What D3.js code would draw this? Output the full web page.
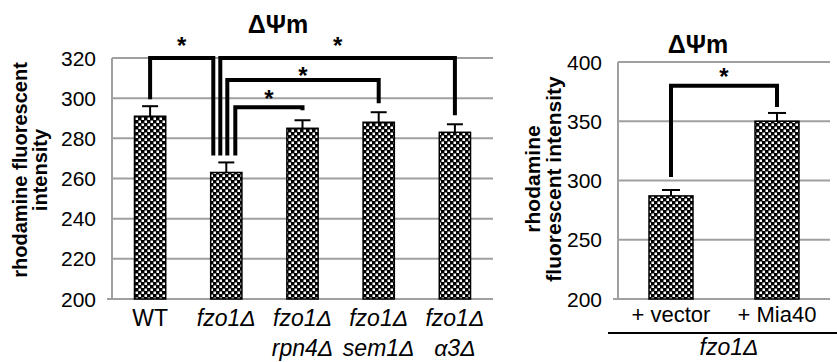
<!DOCTYPE html>
<html>
<head>
<meta charset="utf-8">
<script src="https://cdn.jsdelivr.net/npm/d3@7"></script>
<style>
  body { margin: 0; background: #fff; }
  svg { display: block; font-family: Arial, "Liberation Sans", sans-serif; }
</style>
</head>
<body>
<svg id="chart" width="837" height="362"></svg>
<script>
// left panel data
const leftLine1 = ["WT", "fzo1Δ", "fzo1Δ", "fzo1Δ", "fzo1Δ"];
const leftLine2 = ["", "", "rpn4Δ", "sem1Δ", "α3Δ"];
const leftValues = [291, 263, 285, 288, 283];
const leftErrors = [5, 5, 4, 5, 4];
const leftTicks = [200, 220, 240, 260, 280, 300, 320];
// brackets: bar a -> bar b, level of the top line, where each leg ends, where the star sits
const leftBrackets = [
  { a: 0, b: 1, level: 320, endA: 299.5, endB: 271.5, star: 329 },
  { a: 1, b: 4, level: 320, endA: 271.5, endB: 291.5, star: 329 },
  { a: 1, b: 3, level: 309, endA: 271.5, endB: 297.5, star: 314 },
  { a: 1, b: 2, level: 295.5, endA: 271.5, endB: 294, star: 303 }
];

// right panel data
const rightCategories = ["+ vector", "+ Mia40"];
const rightValues = [287, 350];
const rightErrors = [5, 7];
const rightTicks = [200, 250, 300, 350, 400];
const rightBrackets = [
  { a: 0, b: 1, level: 380, endA: 303, endB: 362, star: 393 }
];

const svg = d3.select("#chart");

// checker fill used by all bars
const pat = svg.append("defs").append("pattern")
  .attr("id", "checker")
  .attr("patternUnits", "userSpaceOnUse")
  .attr("width", 6).attr("height", 6);
pat.append("rect").attr("width", 6).attr("height", 6).attr("fill", "#000");
pat.append("rect").attr("x", 0.5).attr("y", 0.5).attr("width", 2.5).attr("height", 2.5).attr("fill", "#fff");
pat.append("rect").attr("x", 3.5).attr("y", 3.5).attr("width", 2.5).attr("height", 2.5).attr("fill", "#fff");

function drawPanel(opt) {
  const g = svg.append("g");
  const x = d3.scaleBand()
    .domain(d3.range(opt.values.length))
    .range([opt.left, opt.right])
    .paddingInner(opt.pad).paddingOuter(opt.pad / 2);
  const y = d3.scaleLinear().domain(opt.domain).range([opt.bottom, opt.top]);

  // gridlines
  g.append("g").selectAll("line")
    .data(opt.ticks)
    .join("line")
    .attr("x1", d => d === opt.domain[0] ? opt.left - 5 : opt.left)
    .attr("x2", opt.right)
    .attr("y1", d => y(d)).attr("y2", d => y(d))
    .attr("stroke", "#a0a0a0").attr("stroke-width", 2);

  g.append("line")
    .attr("x1", opt.left).attr("x2", opt.left)
    .attr("y1", y(opt.domain[1])).attr("y2", y(opt.domain[0]))
    .attr("stroke", "#a0a0a0").attr("stroke-width", 2);

  // tick labels
  g.append("g").selectAll("text")
    .data(opt.ticks)
    .join("text")
    .attr("x", opt.left - 16)
    .attr("y", d => y(d))
    .attr("dy", "0.36em")
    .attr("text-anchor", "end")
    .attr("font-size", opt.tickSize)
    .attr("fill", "#000")
    .text(d => d);

  // bars
  g.append("g").selectAll("rect")
    .data(opt.values)
    .join("rect")
    .attr("x", (d, i) => x(i))
    .attr("y", d => y(d))
    .attr("width", x.bandwidth())
    .attr("height", d => y(opt.domain[0]) - y(d))
    .attr("fill", "url(#checker)")
    .attr("stroke", "#000").attr("stroke-width", 1.5);

  // error bars (upper only)
  const cx = i => x(i) + x.bandwidth() / 2;
  const eb = g.append("g").attr("stroke", "#000").attr("stroke-width", 2);
  opt.values.forEach((v, i) => {
    const top = y(v + opt.errors[i]);
    eb.append("line").attr("x1", cx(i)).attr("x2", cx(i)).attr("y1", y(v)).attr("y2", top);
    eb.append("line").attr("x1", cx(i) - opt.cap).attr("x2", cx(i) + opt.cap).attr("y1", top).attr("y2", top);
  });

  // significance brackets
  const br = g.append("g");
  opt.brackets.forEach((b, k) => {
    const xa = cx(b.a) + (opt.legShift ? opt.legShift[k][0] : 0);
    const xb = cx(b.b) + (opt.legShift ? opt.legShift[k][1] : 0);
    br.append("path")
      .attr("d", `M${xa},${y(b.endA)}V${y(b.level)}H${xb}V${y(b.endB)}`)
      .attr("fill", "none").attr("stroke", "#000").attr("stroke-width", 4)
      .attr("stroke-linejoin", "miter");
    br.append("text")
      .attr("x", (xa + xb) / 2)
      .attr("y", y(b.star))
      .attr("dy", "0.6em")
      .attr("text-anchor", "middle")
      .attr("font-size", 24).attr("font-weight", "bold")
      .text("*");
  });

  // title
  g.append("text")
    .attr("x", opt.titleX).attr("y", opt.titleY)
    .attr("text-anchor", "middle")
    .attr("font-size", 25).attr("font-weight", "bold")
    .text("ΔΨm");

  // y-axis title
  const yt = g.append("text")
    .attr("transform", `translate(${opt.yTitleX},${opt.yTitleY}) rotate(-90)`)
    .attr("text-anchor", "middle")
    .attr("font-size", opt.yTitleSize).attr("font-weight", "bold");
  opt.yTitle.forEach((t, i) => {
    yt.append("tspan").attr("x", 0).attr("y", i * opt.yTitleGap).text(t);
  });

  return { g, x, y, cx };
}

// left panel
const L = drawPanel({
  left: 112, right: 493, top: 58, bottom: 299, pad: 0.59,
  domain: [200, 320], ticks: leftTicks,
  values: leftValues, errors: leftErrors, cap: 8,
  brackets: leftBrackets,
  legShift: [[0, -13], [-6, 0], [1, 0], [9, 0]],
  tickSize: 21,
  titleX: 278, titleY: 33,
  yTitle: ["rhodamine fluorescent", "intensity"],
  yTitleSize: 20,
  yTitleX: 27, yTitleY: 170, yTitleGap: 20
});

L.g.append("g").selectAll("text")
  .data(leftLine1)
  .join("text")
  .attr("x", (d, i) => L.cx(i))
  .attr("y", 326)
  .attr("text-anchor", "middle")
  .attr("font-size", 23)
  .attr("font-style", (d, i) => i === 0 ? "normal" : "italic")
  .text(d => d);

L.g.append("g").selectAll("text")
  .data(leftLine2)
  .join("text")
  .attr("x", (d, i) => L.cx(i))
  .attr("y", 356)
  .attr("text-anchor", "middle")
  .attr("font-size", 23)
  .attr("font-style", "italic")
  .text(d => d);

// right panel
const R = drawPanel({
  left: 618, right: 830, top: 62, bottom: 299, pad: 0.585,
  domain: [200, 400], ticks: rightTicks,
  values: rightValues, errors: rightErrors, cap: 9,
  brackets: rightBrackets,
  tickSize: 21,
  titleX: 698, titleY: 53,
  yTitle: ["rhodamine", "fluorescent intensity"],
  yTitleSize: 21,
  yTitleX: 540, yTitleY: 179, yTitleGap: 21
});

R.g.append("g").selectAll("text")
  .data(rightCategories)
  .join("text")
  .attr("x", (d, i) => R.cx(i))
  .attr("y", 322)
  .attr("text-anchor", "middle")
  .attr("font-size", 22)
  .text(d => d);

R.g.append("line")
  .attr("x1", 608).attr("x2", 837)
  .attr("y1", 333).attr("y2", 333)
  .attr("stroke", "#000").attr("stroke-width", 2);

R.g.append("text")
  .attr("x", 729).attr("y", 355)
  .attr("text-anchor", "middle")
  .attr("font-size", 23).attr("font-style", "italic")
  .text("fzo1Δ");
</script>
</body>
</html>
